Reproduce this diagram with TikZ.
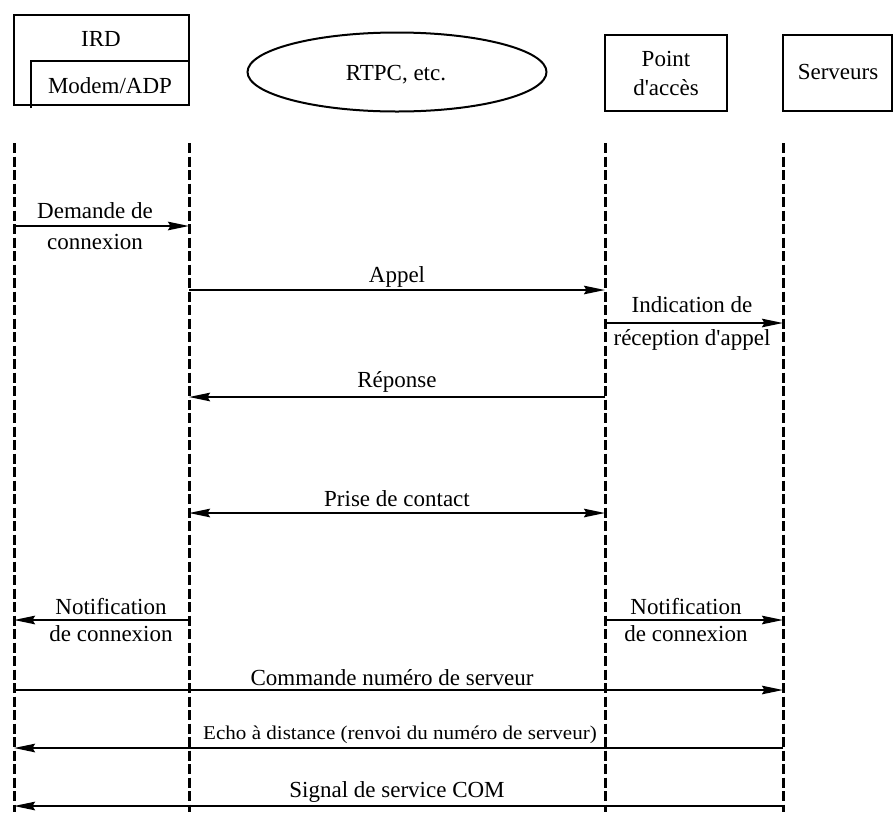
\documentclass[tikz,border=0pt]{standalone}
\usepackage{fontspec}
\setmainfont{Liberation Serif}
\usetikzlibrary{arrows.meta,shapes.geometric}

\tikzset{
  lbl/.style={font=\fontsize{23}{31}\selectfont, inner sep=0pt, align=center},
  boxline/.style={line width=2pt},
  lifeline/.style={line width=3pt, dash pattern=on 10pt off 3.5pt},
  tip/.tip={Stealth[length=21pt,width=8.5pt,inset=2.5pt]},
  msg/.style={line width=2pt, -tip},
  msgboth/.style={line width=2pt, tip-tip}
}

\begin{document}
\begin{tikzpicture}[x=1pt,y=-1pt]
\useasboundingbox (0,0) rectangle (893,812);

% participants
\draw[boxline] (14,15) rectangle (189,105);
\node[lbl] (ird) at (101,39) {IRD};
\draw[boxline] (31,108) -- (31,61) -- (189,61);
\node[lbl] (modem) at (110,86) {Modem/ADP};

\node[lbl, draw, boxline, ellipse, minimum width=299pt, minimum height=79pt] (rtpc) at (397,72) {};
\node[lbl] (rtpctxt) at (396,75) {RTPC, etc.};

\draw[boxline] (605,35) rectangle (727,111);
\node[lbl, font=\fontsize{23}{29}\selectfont] (pa) at (666,73) {Point\\d\textquotesingle accès};

\draw[boxline] (783,35) rectangle (892,111);
\node[lbl] (srv) at (838,72) {Serveurs};

% lifelines
\coordinate (tA) at (14,143);  \coordinate (bA) at (14,812);
\coordinate (tB) at (189,143); \coordinate (bB) at (189,812);
\coordinate (tC) at (605,143); \coordinate (bC) at (605,812);
\coordinate (tD) at (783,143); \coordinate (bD) at (783,812);
\foreach \l in {A,B,C,D} \draw[lifeline] (t\l) -- (b\l);

% message levels
\coordinate (m1) at (0,226);
\coordinate (m2) at (0,290);
\coordinate (m3) at (0,323);
\coordinate (m4) at (0,397);
\coordinate (m5) at (0,513);
\coordinate (m6) at (0,620);
\coordinate (m7) at (0,690);
\coordinate (m8) at (0,748);
\coordinate (m9) at (0,806);

% messages
\draw[msg] (tA |- m1) -- (tB |- m1);
\node[lbl] (l1) at (95,226) {Demande de\\connexion};

\draw[msg] (tB |- m2) -- (tC |- m2);
\node[lbl] (l2) at (397,277) {Appel};

\draw[msg] (tC |- m3) -- (tD |- m3);
\node[lbl, font=\fontsize{23}{33}\selectfont] (l3) at (692,323) {Indication de\\réception d\textquotesingle appel};

\draw[msg] (tC |- m4) -- (tB |- m4);
\node[lbl] (l4) at (397,382) {Réponse};

\draw[msgboth] (tB |- m5) -- (tC |- m5);
\node[lbl] (l5) at (397,499) {Prise de contact};

\draw[msg] (tB |- m6) -- (tA |- m6);
\node[lbl, font=\fontsize{23}{27}\selectfont] (l6) at (111,620) {Notification\\de connexion};

\draw[msg] (tC |- m6) -- (tD |- m6);
\node[lbl, font=\fontsize{23}{27}\selectfont] (l7) at (686,620) {Notification\\de connexion};

\draw[msg] (tA |- m7) -- (tD |- m7);
\node[lbl] (l8) at (392,678) {Commande numéro de serveur};

\draw[msg] (tD |- m8) -- (tA |- m8);
\node[lbl, font=\fontsize{19.5}{21}\selectfont] (l9) at (400,735) {\scalebox{1.08}[1]{Echo à distance (renvoi du numéro de serveur)}};

\draw[msg] (tD |- m9) -- (tA |- m9);
\node[lbl] (l10) at (397,792) {Signal de service COM};
\end{tikzpicture}
\end{document}
